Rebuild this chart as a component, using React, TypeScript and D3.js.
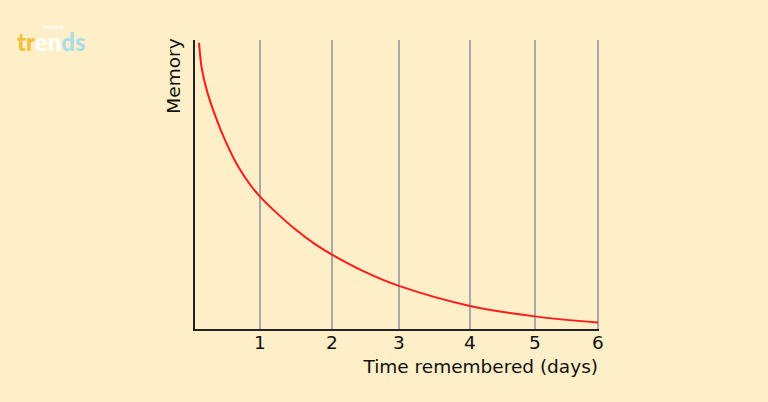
import React from "react";
import * as d3 from "d3";

const days = [0.076, 0.117, 0.192, 0.318, 0.47, 0.671, 0.874, 1, 1.208, 1.486, 1.764, 2, 2.467, 3, 4, 5, 6];
const memory = [99, 90.3, 82.8, 74.1, 65.5, 56.3, 49.4, 46.0, 40.9, 34.8, 29.6, 26.0, 20.3, 15.2, 8.3, 4.7, 2.6];
const tickDays = [0, 1, 2, 3, 4, 5, 6];
const labelDays = [1, 2, 3, 4, 5, 6];
const xLabel = "Time remembered (days)";
const yLabel = "Memory";

const W = 768;
const H = 402;
// horizontal layout of the day grid (pixel positions of days 0..6)
const gridRange = [194, 260, 332, 399, 470, 535, 598];

export default function App() {
  const x = d3.scaleLinear().domain(tickDays).range(gridRange);
  const y = d3.scaleLinear().domain([0, 100]).range([330, 40]);
  const pts: [number, number][] = days.map((d, i) => [d, memory[i]]);
  const line = d3
    .line<[number, number]>()
    .x((d) => x(d[0]))
    .y((d) => y(d[1]))
    .curve(d3.curveCatmullRom.alpha(0.5));
  const font = "'DejaVu Sans', Verdana, sans-serif";
  return (
    <svg
      width={W}
      height={H}
      style={{ position: "absolute", left: 0, top: 0, display: "block" }}
    >
      <rect x={0} y={0} width={W} height={H} fill="#FEEFC8" />
      {/* logo */}
      <text x={44} y={29} fontFamily="'Noto Sans', sans-serif" fontSize={6} fontWeight={700} fill="#ffffff">
        Future
      </text>
      <text x={17} y={51} fontFamily="Lato, 'Noto Sans', sans-serif" fontSize={24} fontWeight={900}>
        <tspan fill="#F4C13E">tr</tspan>
        <tspan fill="#ffffff">en</tspan>
        <tspan fill="#A9DDE9">ds</tspan>
      </text>
      {labelDays.map((t) => (
        <line key={"g" + t} x1={x(t)} x2={x(t)} y1={y(100)} y2={y(0)} stroke="#A8A8A8" strokeWidth={2} />
      ))}
      <line x1={x(0)} x2={x(0)} y1={y(100)} y2={y(0) + 1} stroke="#222" strokeWidth={2} />
      <line x1={x(0) - 1} x2={x(6) + 1} y1={y(0)} y2={y(0)} stroke="#222" strokeWidth={2} />
      <path d={line(pts) || ""} fill="none" stroke="#FF1A1A" strokeWidth={2} />
      {labelDays.map((t) => (
        <text key={"t" + t} x={x(t)} y={349} textAnchor="middle" fontFamily={font} fontSize={18.5} fill="#111">
          {t}
        </text>
      ))}
      <text x={598} y={373} textAnchor="end" fontFamily={font} fontSize={18.5} fill="#111">
        {xLabel}
      </text>
      <text
        transform={`translate(180,76) rotate(-90)`}
        textAnchor="middle"
        fontFamily={font}
        fontSize={18.5}
        fill="#111"
      >
        {yLabel}
      </text>
    </svg>
  );
}
